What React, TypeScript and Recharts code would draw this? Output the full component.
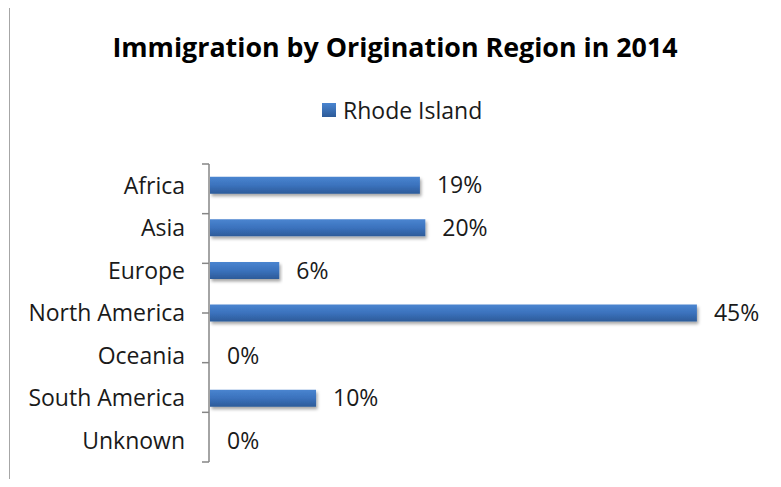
import React from 'react';
import { BarChart, Bar, XAxis, YAxis, LabelList, Cell } from 'recharts';

const categories = ['Africa', 'Asia', 'Europe', 'North America', 'Oceania', 'South America', 'Unknown'];
const rhodeIsland = [19.4, 19.9, 6.4, 45.0, 0, 9.8, 0];
const seriesName = 'Rhode Island';
const title = 'Immigration by Origination Region in 2014';
const boundaryTicks = [0, 1, 2, 3, 4, 5, 6, 7];

const data = categories.map((c, i) => ({ region: c, value: rhodeIsland[i] }));

const FONT = '"Open Sans", "Noto Sans", sans-serif';
const AXIS = '#868686';

const CategoryTick = (props: any) => {
  const { x, y, payload } = props;
  return (
    <text x={x} y={y} dy="0.36em" textAnchor="end" fill="#1a1a1a" fontSize={23} fontFamily={FONT}>
      {payload.value}
    </text>
  );
};

export default function App() {
  return (
    <div style={{ width: 765, height: 471, overflow: 'hidden', position: 'relative', fontFamily: FONT }}>
      <div style={{ position: 'absolute', left: 1, top: -1, width: 800, height: 500, border: '1.5px solid #a6a6a6', boxSizing: 'border-box' }} />
      <div style={{ position: 'absolute', left: -8, top: -8, width: 781, height: 487 }}>
        <BarChart
          width={781}
          height={487}
          data={data}
          layout="vertical"
          margin={{ top: 164, right: 30, bottom: 25, left: 208 }}
          barCategoryGap="30%"
        >
          <defs>
            <linearGradient id="barGrad" x1="0" y1="0" x2="0" y2="1">
              <stop offset="0%" stopColor="#4a85d0" />
              <stop offset="50%" stopColor="#3b72bd" />
              <stop offset="100%" stopColor="#2d5b99" />
            </linearGradient>
            <filter id="barShadow" x="-5%" y="-30%" width="110%" height="190%">
              <feDropShadow dx="1.5" dy="2.5" stdDeviation="1.5" floodColor="#000" floodOpacity="0.35" />
            </filter>
          </defs>
          <XAxis type="number" domain={[0, 50]} hide />
          <YAxis
            yAxisId="bounds"
            type="number"
            domain={[0, 7]}
            ticks={boundaryTicks}
            width={1}
            axisLine={{ stroke: AXIS, strokeWidth: 1.5 }}
            tickLine={{ stroke: AXIS, strokeWidth: 1.5 }}
            tickSize={7}
            tickFormatter={() => ''}
            interval={0}
          />
          <YAxis
            type="category"
            dataKey="region"
            width={1}
            axisLine={false}
            tickLine={false}
            tickSize={7}
            tickMargin={18}
            tick={<CategoryTick />}
            interval={0}
          />
          <Bar
            dataKey="value"
            fill="url(#barGrad)"
            filter="url(#barShadow)"
            minPointSize={(v: any) => (Number(v) === 0 ? 0.01 : 0)}
            isAnimationActive={false}
          >
            {data.map((d, i) => (
              <Cell key={i} fill={d.value === 0 ? 'none' : 'url(#barGrad)'} />
            ))}
            <LabelList
              dataKey="value"
              position="right"
              offset={17}
              formatter={(v: any) => `${Math.round(Number(v))}%`}
              style={{ fill: '#1a1a1a', fontSize: 23, fontFamily: FONT }}
            />
          </Bar>
        </BarChart>
        <div style={{ position: 'absolute', left: 0, top: 29, width: 790, textAlign: 'center', fontSize: 26.8, fontWeight: 700, color: '#000', lineHeight: '36px' }}>
          {title}
        </div>
        <div style={{ position: 'absolute', left: 322, top: 94, display: 'flex', alignItems: 'center', height: 32 }}>
          <div style={{ width: 14, height: 14, background: 'linear-gradient(#4a85d0, #2d5b99)', marginRight: 7 }} />
          <span style={{ fontSize: 23, color: '#1a1a1a' }}>{seriesName}</span>
        </div>
      </div>
    </div>
  );
}
